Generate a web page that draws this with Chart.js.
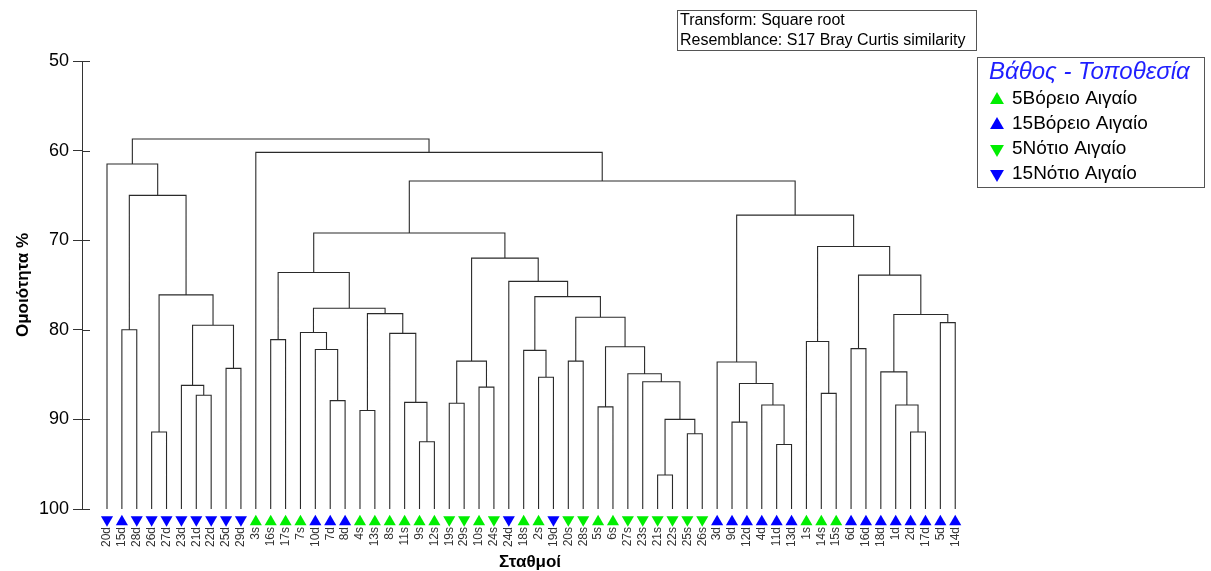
<!DOCTYPE html>
<html>
<head>
<meta charset="utf-8">
<script src="https://cdn.jsdelivr.net/npm/chart.js@4.4.1/dist/chart.umd.min.js"></script>
<style>
  html, body { margin: 0; padding: 0; background: #fff; }
  #wrap { width: 1211px; height: 571px; }
</style>
</head>
<body>
<div id="wrap"><canvas id="dendro" width="1211" height="571"></canvas></div>
<script>
// σταθμοί με τη σειρά του δενδρογράμματος
var leaves = ["20d","15d","28d","26d","27d","23d","21d","22d","25d","29d",
              "3s","16s","17s","7s","10d","7d","8d","4s","13s","8s",
              "11s","9s","12s","19s","29s","10s","24s","24d","18s","2s",
              "19d","20s","28s","5s","6s","27s","23s","21s","22s","25s",
              "26s","3d","9d","12d","4d","11d","13d","1s","14s","15s",
              "6d","16d","18d","1d","2d","17d","5d","14d"];

// ομάδα κάθε σταθμού (δείκτης στο groupNames)
var leafGroup = [3,1,3,3,3,3,3,3,3,3,
                 0,0,0,0,1,1,1,0,0,0,
                 0,0,0,2,2,0,2,3,0,0,
                 3,2,2,0,0,2,2,2,2,2,
                 2,1,1,1,1,1,1,0,0,0,
                 1,1,1,1,1,1,1,1];

var groupNames = ["5Βόρειο Αιγαίο", "15Βόρειο Αιγαίο", "5Νότιο Αιγαίο", "15Νότιο Αιγαίο"];
var groupColors = ["#00ee00", "#0000ff", "#00ee00", "#0000ff"];
var groupDown = [false, false, true, true];

// συνενώσεις: κόμβοι 0..57 = σταθμοί, 58+k = συνένωση k
var mergeA = [1,3,6,5,8,61,59,58,0,11,
              15,14,13,17,21,20,19,71,70,67,
              23,25,78,29,28,31,33,37,39,85,
              36,35,84,83,82,27,80,77,42,45,
              44,96,41,48,47,50,54,53,52,56,
              106,103,102,100,95,10,66];
var mergeB = [2,4,7,60,9,62,63,64,65,12,
              16,68,69,18,22,72,73,74,75,76,
              24,26,79,30,81,32,34,38,40,86,
              87,88,89,90,91,92,93,94,43,46,
              97,98,99,49,101,51,55,104,105,57,
              107,108,109,110,111,112,113];
var mergeH = [80.0,91.4,87.3,86.2,84.3,79.5,76.1,65.0,61.5,81.1,
              87.9,82.2,80.3,89.0,92.5,88.1,80.4,78.2,77.6,73.6,
              88.2,86.4,83.5,85.3,82.3,83.5,88.6,96.2,91.6,90.0,
              85.8,84.9,81.9,78.6,76.3,74.6,72.0,69.2,90.3,92.8,
              88.4,86.0,83.6,87.1,81.3,82.1,91.4,88.4,84.7,79.2,
              78.3,73.9,70.7,67.2,63.4,60.2,58.7];

var yTicks = [50, 60, 70, 80, 90, 100];
var MARKER_LEVEL = 101.3;

/* ── γραμμές δενδρογράμματος ── */
function buildLinks() {
  var n = leaves.length;
  var pos = [], hgt = [];
  for (var i = 0; i < n; i++) { pos.push(i); hgt.push(100); }
  var pts = [];
  for (var k = 0; k < mergeH.length; k++) {
    var a = mergeA[k], b = mergeB[k], h = mergeH[k];
    pts.push({ x: pos[a], y: hgt[a] }, { x: pos[a], y: h },
             { x: pos[b], y: h }, { x: pos[b], y: hgt[b] },
             { x: pos[b], y: null });
    pos.push((pos[a] + pos[b]) / 2);
    hgt.push(h);
  }
  return pts;
}

function tri(ctx, x, y, r, down, color) {
  ctx.fillStyle = color;
  ctx.beginPath();
  var s = down ? -1 : 1;
  ctx.moveTo(x, y - s * r);
  ctx.lineTo(x + r * 0.866, y + s * r / 2);
  ctx.lineTo(x - r * 0.866, y + s * r / 2);
  ctx.closePath();
  ctx.fill();
}

/* ── σύμβολα σταθμών κάτω από τα φύλλα ── */
var markersPlugin = {
  id: "markers",
  afterDatasetsDraw: function (chart) {
    var ctx = chart.ctx, xs = chart.scales.x, ys = chart.scales.y;
    var py = ys.getPixelForValue(MARKER_LEVEL);
    ctx.save();
    for (var i = 0; i < leaves.length; i++) {
      var g = leafGroup[i];
      tri(ctx, xs.getPixelForValue(i), py + (groupDown[g] ? -1 : 1), 7, groupDown[g], groupColors[g]);
    }
    ctx.restore();
  }
};

/* ── πλαίσια κειμένου, υπόμνημα, εσωτερικά ticks ── */
var boxesPlugin = {
  id: "boxes",
  afterDraw: function (chart) {
    var ctx = chart.ctx;
    var ys = chart.scales.y;
    var left = chart.chartArea.left;
    ctx.save();
    ctx.strokeStyle = "#333";
    ctx.lineWidth = 1;
    yTicks.forEach(function (v) {
      var py = Math.round(ys.getPixelForValue(v)) + 0.5;
      ctx.beginPath();
      ctx.moveTo(left, py);
      ctx.lineTo(left + 8, py);
      ctx.stroke();
    });

    ctx.strokeStyle = "#555";
    ctx.strokeRect(677.5, 10.5, 299, 40);
    ctx.fillStyle = "#000";
    ctx.font = "16px 'Liberation Sans', Arial, sans-serif";
    ctx.textBaseline = "middle";
    ctx.textAlign = "left";
    ctx.fillText("Transform: Square root", 680, 21);
    ctx.fillText("Resemblance: S17 Bray Curtis similarity", 680, 41);

    ctx.strokeRect(977.5, 57.5, 227, 130);
    ctx.fillStyle = "#1f1fff";
    ctx.font = "italic 24px 'Liberation Sans', Arial, sans-serif";
    ctx.fillText("Βάθος - Τοποθεσία", 989, 72);
    ctx.font = "19px 'Liberation Sans', Arial, sans-serif";
    for (var i = 0; i < groupNames.length; i++) {
      var cy = 99 + i * 25;
      tri(ctx, 997, cy + (groupDown[i] ? 0 : 1), 8, groupDown[i], groupColors[i]);
      ctx.fillStyle = "#000";
      ctx.fillText(groupNames[i], 1012, cy);
    }
    ctx.restore();
  }
};

new Chart(document.getElementById("dendro"), {
  type: "line",
  data: {
    datasets: [{
      data: buildLinks(),
      borderColor: "#2a2a2a",
      borderWidth: 1.1,
      pointRadius: 0,
      tension: 0,
      spanGaps: false
    }]
  },
  options: {
    responsive: false,
    devicePixelRatio: 1,
    animation: false,
    events: [],
    layout: { padding: { left: 0, right: 233, top: 61, bottom: 0 } },
    plugins: { legend: { display: false }, tooltip: { enabled: false } },
    scales: {
      x: {
        type: "linear",
        min: -1.68,
        max: 58.53,
        afterBuildTicks: function (s) {
          s.ticks = leaves.map(function (_, i) { return { value: i }; });
        },
        afterFit: function (s) { s.height = 62; },
        ticks: {
          autoSkip: false,
          minRotation: 90,
          maxRotation: 90,
          padding: 18,
          color: "#333",
          font: { family: "'Liberation Sans', Arial", size: 12 },
          callback: function (v) { return leaves[v]; }
        },
        grid: { display: false, drawTicks: false },
        border: { display: false },
        title: {
          display: true,
          text: "Σταθμοί",
          color: "#000",
          padding: 0,
          font: { family: "'Liberation Sans', Arial", size: 17, weight: "bold", lineHeight: 1 }
        }
      },
      y: {
        min: 50,
        max: 100,
        reverse: true,
        afterBuildTicks: function (s) {
          s.ticks = yTicks.map(function (v) { return { value: v }; });
        },
        afterFit: function (s) { s.width = 82; },
        ticks: {
          padding: 4,
          color: "#000",
          font: { family: "'Liberation Sans', Arial", size: 18 }
        },
        grid: { drawOnChartArea: false, drawTicks: true, tickLength: 9, color: "#333" },
        border: { display: true, color: "#333" },
        title: {
          display: true,
          text: "Ομοιότητα %",
          color: "#000",
          padding: { top: 13, bottom: 0 },
          font: { family: "'Liberation Sans', Arial", size: 17, weight: "bold" }
        }
      }
    }
  },
  plugins: [markersPlugin, boxesPlugin]
});
</script>
</body>
</html>
